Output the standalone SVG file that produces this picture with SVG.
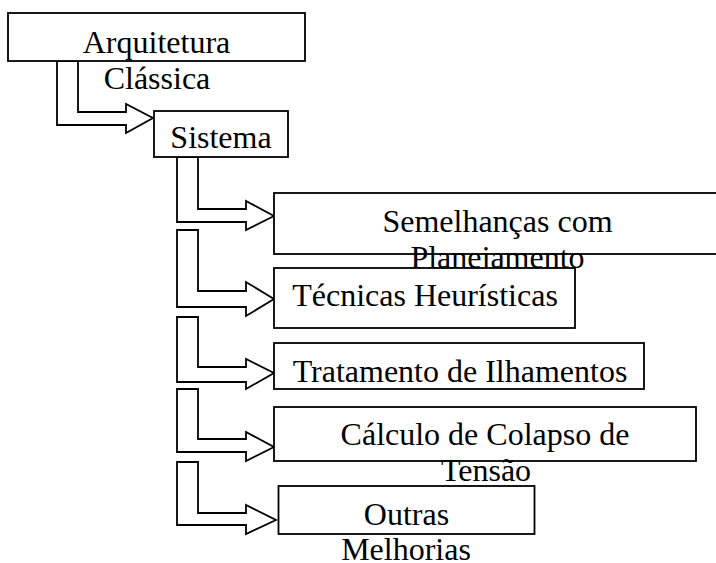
<svg xmlns="http://www.w3.org/2000/svg" width="716" height="563" viewBox="0 0 716 563">
<style>
.box{fill:#fff;stroke:#000;stroke-width:1.8}
.arr{fill:#fff;stroke:#000;stroke-width:1.8;stroke-linejoin:miter}
.t{font-family:"Liberation Serif","Times New Roman",serif;font-size:32px;fill:#000;text-anchor:middle}
</style>
<rect x="0" y="0" width="716" height="563" fill="#fff"/>
<g id="connectors">
<polygon class="arr" points="57,61 57,125 126,125 126,133 153,118 126,104 126,112 78,112 78,61"/>
<polygon class="arr" points="177,157 177,222 246,222 246,230 274,216 246,201 246,209 198,209 198,157"/>
<polygon class="arr" points="177,230 177,307 246,307 246,316 274,299 246,282 246,291 198,291 198,230"/>
<polygon class="arr" points="177,317 177,382 246,382 246,389 274,373 246,359 246,367 198,367 198,317"/>
<polygon class="arr" points="177,389 177,452 246,452 246,461 274,447 246,432 246,439 198,439 198,389"/>
<polygon class="arr" points="177,462 177,525 246,525 246,534 276,520 246,505 246,513 198,513 198,462"/>
</g>
<g id="arquitetura">
<rect class="box" x="8" y="13" width="297" height="48"/>
<text class="t" x="156.5" y="53">Arquitetura</text>
<text class="t" x="157" y="89">Clássica</text>
</g>
<g id="sistema">
<rect class="box" x="154" y="111" width="134" height="46"/>
<text class="t" x="221" y="148">Sistema</text>
</g>
<g id="semelhancas">
<rect class="box" x="274" y="193" width="448" height="61"/>
<text class="t" x="497.5" y="232">Semelhanças com</text>
<text class="t" x="497.5" y="268">Planejamento</text>
</g>
<g id="tecnicas">
<rect class="box" x="274" y="268" width="301" height="60"/>
<text class="t" x="425" y="306">Técnicas Heurísticas</text>
</g>
<g id="tratamento">
<rect class="box" x="274" y="343" width="370" height="46"/>
<text class="t" x="460" y="382">Tratamento de Ilhamentos</text>
</g>
<g id="calculo">
<rect class="box" x="274" y="407" width="422" height="54"/>
<text class="t" x="485" y="445">Cálculo de Colapso de</text>
<text class="t" x="486" y="481">Tensão</text>
</g>
<g id="outras">
<rect class="box" x="278.5" y="486" width="256" height="48"/>
<text class="t" x="406.5" y="525">Outras</text>
<text class="t" x="406" y="560">Melhorias</text>
</g>
</svg>
